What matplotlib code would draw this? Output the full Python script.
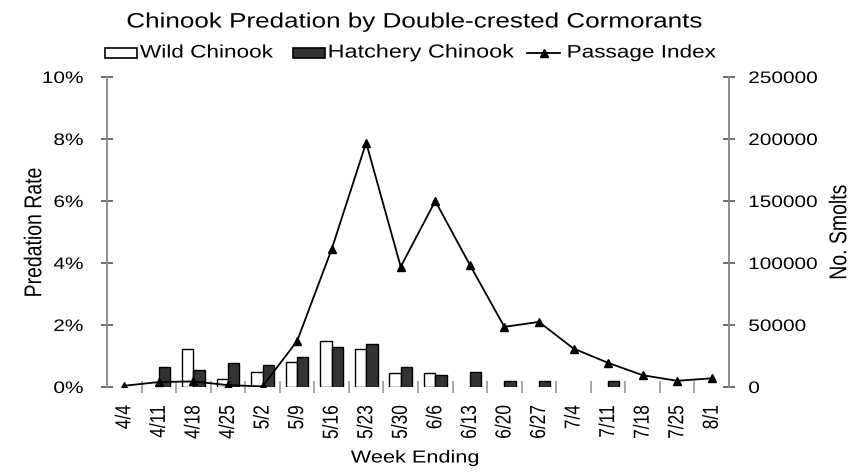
import numpy as np
import matplotlib
matplotlib.use("Agg")
import matplotlib.pyplot as plt
from matplotlib.patheffects import AbstractPathEffect
from matplotlib.transforms import Affine2D
from matplotlib.patches import Rectangle
from matplotlib.lines import Line2D
from matplotlib.ticker import FuncFormatter, FixedLocator

# ---------------- data ----------------
weeks = ["4/4", "4/11", "4/18", "4/25", "5/2", "5/9", "5/16", "5/23", "5/30",
         "6/6", "6/13", "6/20", "6/27", "7/4", "7/11", "7/18", "7/25", "8/1"]
wild_rate = [0, 0, 1.22, 0.27, 0.47, 0.82, 1.48, 1.22, 0.46,
             0.45, 0, 0, 0, 0, 0, 0, 0, 0]            # percent
hatchery_rate = [0, 0.65, 0.55, 0.76, 0.71, 0.96, 1.28, 1.39, 0.65,
                 0.40, 0.48, 0.18, 0.18, 0, 0.19, 0, 0, 0]  # percent
passage_index = [1000, 4000, 4500, 1500, 500, 37000, 111000, 197000, 97000,
                 150000, 98500, 48500, 52500, 31000, 19500, 9500, 5000, 7000]
rate_ticks = [0, 2, 4, 6, 8, 10]
smolt_ticks = [0, 50000, 100000, 150000, 200000, 250000]

title = "Chinook Predation by Double-crested Cormorants"
legend_labels = ["Wild Chinook", "Hatchery Chinook", "Passage Index"]

FONT = "Liberation Sans"
SX = 1.25  # horizontal stretch of text (reference is horizontally stretched)


class Stretch(AbstractPathEffect):
    """Stretch text glyphs horizontally around an anchor (left/center/right)."""
    def __init__(self, sx=SX, anchor="center"):
        super().__init__()
        self.sx = sx
        self.anchor = anchor

    def draw_path(self, renderer, gc, tpath, affine, rgbFace=None):
        bb = tpath.get_extents(affine)
        if self.anchor == "left":
            cx = bb.x0
        elif self.anchor == "right":
            cx = bb.x1
        else:
            cx = 0.5 * (bb.x0 + bb.x1)
        new_aff = affine + Affine2D().translate(-cx, 0).scale(self.sx, 1).translate(cx, 0)
        renderer.draw_path(gc, tpath, new_aff, rgbFace)


W, H = 857, 474
fig = plt.figure(figsize=(W / 100, H / 100), dpi=100)
plt.rcParams["font.family"] = [FONT, "DejaVu Sans"]

L, R, T, B = 107, 729, 77, 387
ax = fig.add_axes([L / W, (H - B) / H, (R - L) / W, (B - T) / H])
ax2 = ax.twinx()

x = np.arange(len(weeks))
bw = 0.33
wild = np.array(wild_rate, dtype=float)
hatch = np.array(hatchery_rate, dtype=float)
mw = wild > 0
mh = hatch > 0
ax.bar(x[mw] - bw / 2, wild[mw], bw, color="white", edgecolor="black", linewidth=1.0, zorder=2)
ax.bar(x[mh] + bw / 2, hatch[mh], bw, color="#333333", edgecolor="black", linewidth=1.0, zorder=2)

ax2.plot(x, passage_index, color="black", linewidth=1.3, marker="^", markersize=6,
         markerfacecolor="black", markeredgecolor="black", zorder=3)

ax.set_xlim(-0.5, len(weeks) - 0.5)
ax.set_ylim(0, 10)
ax2.set_ylim(0, 250000)

spine_col = "#8c8c8c"
for a in (ax, ax2):
    for s in ("top", "bottom"):
        a.spines[s].set_visible(False)
    a.spines["left"].set_color(spine_col)
    a.spines["right"].set_color(spine_col)
    a.spines["left"].set_linewidth(1.4)
    a.spines["right"].set_linewidth(1.4)
ax.spines["right"].set_visible(False)
ax2.spines["left"].set_visible(False)

# y ticks
ax.set_yticks(rate_ticks)
ax.yaxis.set_major_formatter(FuncFormatter(lambda v, p: f"{v:.0f}%"))
ax.tick_params(axis="y", direction="inout", length=9, width=1.2, color="#555555",
               pad=12.5, labelsize=12)
ax2.set_yticks(smolt_ticks)
ax2.yaxis.set_major_formatter(FuncFormatter(lambda v, p: f"{v:.0f}"))
ax2.tick_params(axis="y", direction="inout", length=9, width=1.2, color="#555555",
                pad=9.5, labelsize=12)

# x ticks: labels at category centres, tick marks between categories
ax.set_xticks(x)
ax.set_xticklabels(weeks, rotation=90)
ax.tick_params(axis="x", which="major", length=0, pad=13, labelsize=12.5)
ax.xaxis.set_minor_locator(FixedLocator(x[:-1] + 0.5))
ax.tick_params(axis="x", which="minor", direction="inout", length=8, width=1.2,
               color="#9a9a9a")

for lbl in ax.get_yticklabels():
    lbl.set_path_effects([Stretch(anchor="right")])
for lbl in ax2.get_yticklabels():
    lbl.set_path_effects([Stretch(anchor="left")])
for lbl in ax.get_xticklabels():
    lbl.set_path_effects([Stretch(anchor="center")])

# axis labels
ax.set_ylabel("Predation Rate", fontsize=14, path_effects=[Stretch()])
ax.yaxis.label.set(va="center", ha="center")
ax.yaxis.set_label_coords((35 - L) / (R - L), 0.5 - (232 - (T + B) / 2) / (B - T))
ax2.set_ylabel("No. Smolts", fontsize=14, path_effects=[Stretch()])
ax2.yaxis.label.set(va="center", ha="center", rotation=90)
ax2.yaxis.set_label_coords((840 - L) / (R - L), 0.5 - (232 - (T + B) / 2) / (B - T))
ax.set_xlabel("Week Ending", fontsize=12.5, path_effects=[Stretch()])
ax.xaxis.label.set(va="center", ha="center")
ax.xaxis.set_label_coords((415 - L) / (R - L), (B - 458) / (B - T))

# title
fig.text(415 / W, 1 - 22 / H, title, ha="center", va="center", fontsize=15,
         path_effects=[Stretch()])

# manual legend (figure pixel coordinates)
ly = 1 - 53 / H
fig.patches.append(Rectangle((105 / W, ly - 5 / H), 32 / W, 10 / H, transform=fig.transFigure,
                             facecolor="white", edgecolor="black", linewidth=1.2))
fig.text(140 / W, ly, legend_labels[0], ha="left", va="center", fontsize=13,
         path_effects=[Stretch(anchor="left")])
fig.patches.append(Rectangle((293 / W, ly - 5 / H), 32 / W, 10 / H, transform=fig.transFigure,
                             facecolor="#333333", edgecolor="black", linewidth=1.2))
fig.text(328 / W, ly, legend_labels[1], ha="left", va="center", fontsize=13.5,
         path_effects=[Stretch(anchor="left")])
fig.lines.append(Line2D([527 / W, 560 / W], [ly, ly], transform=fig.transFigure,
                        color="black", linewidth=1.3))
fig.lines.append(Line2D([543.5 / W], [ly], transform=fig.transFigure, marker="^",
                        markersize=6, color="black"))
fig.text(567 / W, ly, legend_labels[2], ha="left", va="center", fontsize=13,
         path_effects=[Stretch(anchor="left")])

fig.savefig("out.png", dpi=100, facecolor="white")
